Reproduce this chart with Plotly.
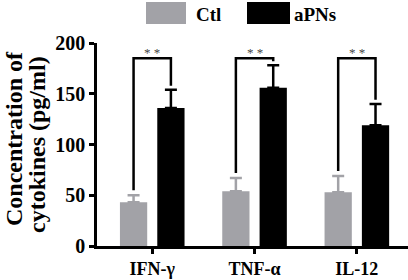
import plotly.graph_objects as go

categories = ["IFN-γ", "TNF-α", "IL-12"]
ctl_values = [43, 54, 53]
ctl_err = [7, 13, 16]
apns_values = [136, 156, 119]
apns_err = [18, 22, 21]
series_names = ["Ctl", "aPNs"]
y_ticks = [0, 50, 100, 150, 200]

W, H = 408, 280
ML, MR, MT, MB = 97, 0, 43, 34
FONT = "Liberation Serif"
GRAY = "#a2a2a7"

fig = go.Figure()
fig.add_trace(go.Bar(
    x=categories, y=ctl_values, name=series_names[0], marker_color=GRAY,
    marker_line_width=0,
    error_y=dict(type="data", array=ctl_err, arrayminus=[0]*3, symmetric=False,
                 color=GRAY, thickness=2.5, width=6),
    showlegend=False))
fig.add_trace(go.Bar(
    x=categories, y=apns_values, name=series_names[1], marker_color="#000000",
    marker_line_width=0,
    error_y=dict(type="data", array=apns_err, arrayminus=[0]*3, symmetric=False,
                 color="#000000", thickness=2.5, width=6),
    showlegend=False))

bargap, bargroupgap = 0.27, 0.27
off = (1 - bargap) / 4

shapes = []
annotations = []
for i in range(len(categories)):
    xl, xr = i - off, i + off
    top = 185
    yl = ctl_values[i] + ctl_err[i] + 5
    yr = apns_values[i] + apns_err[i] + 4
    shapes.append(dict(type="path", xref="x", yref="y",
                       path=f"M {xl},{yl} L {xl},{top} L {xr},{top} L {xr},{yr}",
                       line=dict(color="black", width=2.5)))
    annotations.append(dict(x=i, y=top, xref="x", yref="y", text="* *",
                            showarrow=False, yanchor="bottom", yshift=-4,
                            font=dict(family=FONT, size=13, color="#444")))

def px_x(p):
    return (p - ML) / (W - ML - MR)

def px_y(p):
    return (H - MB - p) / (H - MT - MB)

# legend drawn manually
leg = [(146, 186, GRAY, series_names[0], 194), (247, 290, "#000000", series_names[1], 292)]
for x0, x1, col, name, tx in leg:
    shapes.append(dict(type="rect", xref="paper", yref="paper",
                       x0=px_x(x0), x1=px_x(x1), y0=px_y(24), y1=px_y(2),
                       fillcolor=col, line_width=0))
    annotations.append(dict(x=px_x(tx), y=px_y(15), xref="paper", yref="paper",
                            text=name, showarrow=False,
                            xanchor="left", yanchor="middle",
                            font=dict(family=FONT, size=19, color="black", weight="bold")))

for txt, cx, cy in [("Concentration of", 14, 139), ("cytokines (pg/ml)", 37, 145)]:
    annotations.append(dict(x=px_x(cx), y=px_y(cy), xref="paper", yref="paper",
                            text=txt, showarrow=False, textangle=-90,
                            xanchor="center", yanchor="middle",
                            font=dict(family=FONT, size=24, color="black", weight="bold")))

fig.update_layout(
    width=W, height=H, margin=dict(l=ML, r=MR, t=MT, b=MB, autoexpand=False),
    paper_bgcolor="white", plot_bgcolor="white",
    barmode="group", bargap=bargap, bargroupgap=bargroupgap,
    shapes=shapes, annotations=annotations,
    font=dict(family=FONT, color="black"),
)
fig.update_xaxes(range=[-0.54, 2.5], showline=True, linecolor="black", linewidth=2.5,
                 ticks="outside", ticklen=5, tickwidth=2.5, tickcolor="black",
                 showgrid=False, zeroline=False, automargin=False,
                 tickfont=dict(family=FONT, size=18, color="black", weight="bold"))
fig.update_yaxes(range=[0, 200], tickvals=y_ticks, showline=True, linecolor="black",
                 linewidth=2.5, ticks="outside", ticklen=5, tickwidth=2.5,
                 tickcolor="black", showgrid=False, zeroline=False, automargin=False,
                 tickfont=dict(family=FONT, size=20, color="black", weight="bold"))

fig.write_html("out.html", config={"displayModeBar": False},
               post_script="document.body.style.margin='0';")
